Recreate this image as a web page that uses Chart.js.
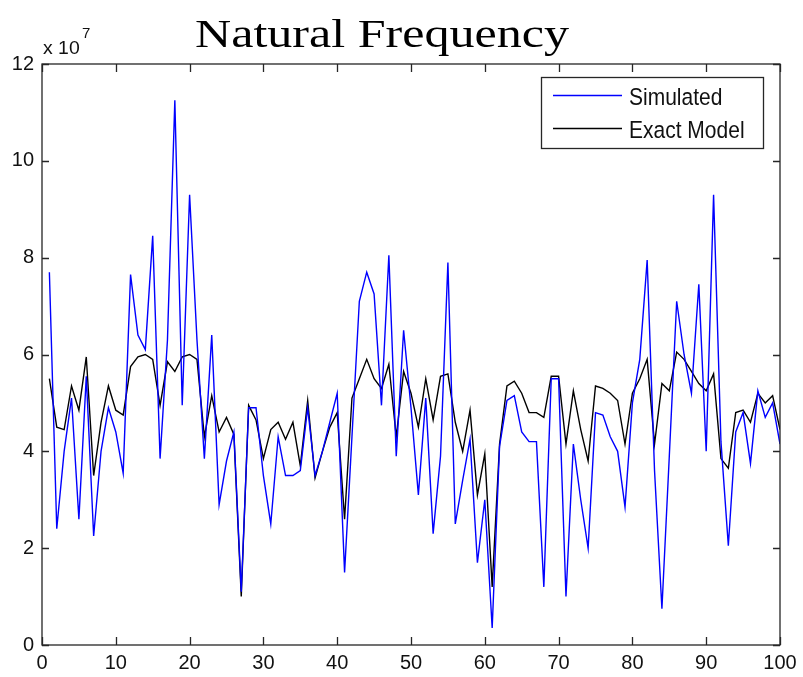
<!DOCTYPE html>
<html>
<head>
<meta charset="utf-8">
<title>Natural Frequency</title>
<script src="https://cdn.jsdelivr.net/npm/chart.js@4.4.1/dist/chart.umd.min.js"></script>
<style>
    html, body { margin: 0; padding: 0; background: #fff; }
    #wrap { width: 803px; height: 677px; }
</style>
</head>
<body>
<div id="wrap"><canvas id="grafico" width="803" height="677"></canvas></div>
<script>
// Valores em unidades de 1e7 (o eixo mostra "x 10^7")
const amostras = [
    1, 2, 3, 4, 5, 6, 7, 8, 9, 10, 11, 12, 13, 14, 15, 16, 17, 18, 19, 20,
    21, 22, 23, 24, 25, 26, 27, 28, 29, 30, 31, 32, 33, 34, 35, 36, 37, 38, 39, 40,
    41, 42, 43, 44, 45, 46, 47, 48, 49, 50, 51, 52, 53, 54, 55, 56, 57, 58, 59, 60,
    61, 62, 63, 64, 65, 66, 67, 68, 69, 70, 71, 72, 73, 74, 75, 76, 77, 78, 79, 80,
    81, 82, 83, 84, 85, 86, 87, 88, 89, 90, 91, 92, 93, 94, 95, 96, 97, 98, 99, 100
];

const simulado = [
    7.7, 2.4, 4.0, 5.1, 2.6, 5.55, 2.25, 4.0, 4.9, 4.4,
    3.55, 7.65, 6.4, 6.1, 8.45, 3.85, 6.3, 11.25, 4.95, 9.3,
    6.3, 3.85, 6.4, 2.9, 3.8, 4.4, 1.1, 4.9, 4.9, 3.5,
    2.5, 4.3, 3.5, 3.5, 3.6, 4.9, 3.5, 4.0, 4.6, 5.2,
    1.5, 4.3, 7.1, 7.7, 7.25, 4.95, 8.05, 3.9, 6.5, 4.9,
    3.1, 5.1, 2.3, 3.9, 7.9, 2.5, 3.4, 4.25, 1.7, 3.0,
    0.35, 4.1, 5.05, 5.15, 4.4, 4.2, 4.2, 1.2, 5.5, 5.5,
    1.0, 4.15, 3.0, 2.0, 4.8, 4.75, 4.3, 4.0, 2.85, 5.0,
    5.9, 7.95, 3.6, 0.75, 3.9, 7.1, 6.0, 5.2, 7.45, 4.0,
    9.3, 4.2, 2.05, 4.4, 4.8, 3.75, 5.25, 4.7, 5.0, 4.15
];

const modeloExato = [
    5.5, 4.5, 4.45, 5.35, 4.85, 5.95, 3.5, 4.6, 5.35, 4.85,
    4.75, 5.75, 5.95, 6.0, 5.9, 4.95, 5.85, 5.65, 5.95, 6.0,
    5.9, 4.3, 5.15, 4.4, 4.7, 4.35, 1.0, 4.95, 4.65, 3.85,
    4.45, 4.6, 4.25, 4.6, 3.7, 5.05, 3.45, 4.0, 4.5, 4.8,
    2.6, 5.1, 5.5, 5.9, 5.5, 5.3, 5.8, 4.3, 5.65, 5.2,
    4.5, 5.5, 4.65, 5.55, 5.6, 4.6, 4.0, 4.85, 3.1, 3.95,
    1.2, 4.15, 5.35, 5.45, 5.2, 4.8, 4.8, 4.7, 5.55, 5.55,
    4.15, 5.25, 4.45, 3.8, 5.35, 5.3, 5.2, 5.05, 4.15, 5.2,
    5.5, 5.9, 4.15, 5.4, 5.25, 6.05, 5.9, 5.65, 5.4, 5.25,
    5.6, 3.85, 3.65, 4.8, 4.85, 4.6, 5.2, 5.0, 5.15, 4.45
];

const ticksX = [0, 10, 20, 30, 40, 50, 60, 70, 80, 90, 100];
const ticksY = [0, 2, 4, 6, 8, 10, 12];

const titulo = 'Natural Frequency';
const rotulos = ['Simulated', 'Exact Model'];
const cores = ['#0000ff', '#000000'];

// Moldura estilo MATLAB, ticks internos, titulo, expoente e legenda
const molduraPlugin = {
    id: 'moldura',
    afterDraw(chart) {
        const { ctx, chartArea: a, scales: { x, y } } = chart;
        ctx.save();

        // caixa e ticks
        ctx.strokeStyle = '#262626';
        ctx.lineWidth = 1.3;
        ctx.strokeRect(a.left, a.top, a.right - a.left, a.bottom - a.top);
        ctx.beginPath();
        x.ticks.forEach(t => {
            const px = Math.round(x.getPixelForValue(t.value)) + 0.5;
            ctx.moveTo(px, a.bottom); ctx.lineTo(px, a.bottom - 8);
            ctx.moveTo(px, a.top); ctx.lineTo(px, a.top + 8);
        });
        y.ticks.forEach(t => {
            const py = Math.round(y.getPixelForValue(t.value)) + 0.5;
            ctx.moveTo(a.left, py); ctx.lineTo(a.left + 7, py);
            ctx.moveTo(a.right, py); ctx.lineTo(a.right - 7, py);
        });
        ctx.stroke();

        // titulo
        ctx.fillStyle = '#000';
        ctx.font = '40px "Liberation Serif", "Times New Roman", serif';
        ctx.textBaseline = 'alphabetic';
        ctx.textAlign = 'left';
        const largura = ctx.measureText(titulo).width;
        const escala = 374 / largura;
        ctx.save();
        ctx.translate(195, 47);
        ctx.scale(escala, 1);
        ctx.fillText(titulo, 0, 0);
        ctx.restore();

        // expoente do eixo y
        ctx.fillStyle = '#111';
        ctx.font = '18px "Liberation Sans", Arial, sans-serif';
        ctx.save();
        ctx.translate(a.left + 1, 54);
        ctx.scale(1.08, 1);
        ctx.fillText('x 10', 0, 0);
        ctx.restore();
        ctx.font = '15px "Liberation Sans", Arial, sans-serif';
        ctx.fillText('7', 82, 38);

        // legenda
        const lx = 541, ly = 77, lw = 222, lh = 71;
        ctx.fillStyle = '#fff';
        ctx.fillRect(lx, ly, lw, lh);
        ctx.strokeStyle = '#262626';
        ctx.lineWidth = 1.3;
        ctx.strokeRect(lx + 0.5, ly + 0.5, lw, lh);
        chart.data.datasets.forEach((ds, i) => {
            const yy = 95.5 + i * 33;
            ctx.strokeStyle = ds.borderColor;
            ctx.lineWidth = 1.3;
            ctx.beginPath();
            ctx.moveTo(553, yy);
            ctx.lineTo(622, yy);
            ctx.stroke();
            ctx.fillStyle = '#111';
            ctx.font = '21px "Liberation Sans", Arial, sans-serif';
            ctx.save();
            ctx.translate(629, 105 + i * 33);
            ctx.scale(1, 1.12);
            ctx.fillText(ds.label, 0, 0);
            ctx.restore();
        });

        ctx.restore();
    }
};

const ctx = document.getElementById('grafico').getContext('2d');

new Chart(ctx, {
    type: 'line',
    data: {
        datasets: [
            {
                label: rotulos[0],
                data: amostras.map((v, i) => ({ x: v, y: simulado[i] })),
                borderColor: cores[0],
                borderWidth: 1.4,
                pointRadius: 0,
                tension: 0,
                fill: false
            },
            {
                label: rotulos[1],
                data: amostras.map((v, i) => ({ x: v, y: modeloExato[i] })),
                borderColor: cores[1],
                borderWidth: 1.4,
                pointRadius: 0,
                tension: 0,
                fill: false
            }
        ]
    },
    options: {
        responsive: false,
        animation: false,
        devicePixelRatio: 1,
        layout: { padding: { top: 64, right: 23, left: 0, bottom: 0 } },
        plugins: {
            legend: { display: false },
            title: { display: false },
            tooltip: { enabled: false }
        },
        scales: {
            x: {
                type: 'linear',
                min: 0,
                max: 100,
                afterFit: s => { s.height = 32; },
                afterBuildTicks: s => { s.ticks = ticksX.map(v => ({ value: v })); },
                grid: { display: false, drawTicks: false },
                border: { display: false },
                ticks: {
                    padding: 6,
                    maxRotation: 0,
                    color: '#111',
                    font: { family: '"Liberation Sans", Arial, sans-serif', size: 20 }
                }
            },
            y: {
                type: 'linear',
                min: 0,
                max: 12,
                afterFit: s => { s.width = 42; },
                afterBuildTicks: s => { s.ticks = ticksY.map(v => ({ value: v })); },
                grid: { display: false, drawTicks: false },
                border: { display: false },
                ticks: {
                    padding: 8,
                    color: '#111',
                    font: { family: '"Liberation Sans", Arial, sans-serif', size: 20 }
                }
            }
        }
    },
    plugins: [molduraPlugin]
});
</script>
</body>
</html>
